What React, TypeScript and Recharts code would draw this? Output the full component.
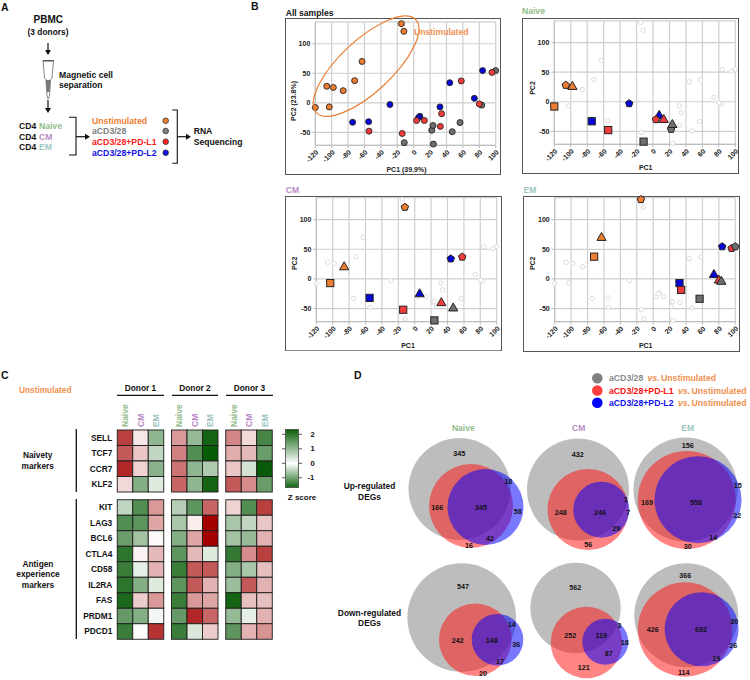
import React from 'react';
import { ScatterChart, Scatter, XAxis, YAxis, CartesianGrid } from 'recharts';

const FONT = '"Liberation Sans", Arial, sans-serif';
const ORANGE = '#ed7d31';
const GRAY = '#6f6f6f';
const RED = '#f23c3c';
const BLUE = '#0505d8';
const NAIVE = '#93bd8b';
const CM = '#b98cc6';
const EM = '#9dc6c2';

// PCA: each stimulation, one point per donor and subset
const unstimulated = [
  { pc1: -106, pc2: 28, subset: 'Naive', donor: 1 },
  { pc1: -98, pc2: 26, subset: 'Naive', donor: 2 },
  { pc1: -120, pc2: -8, subset: 'Naive', donor: 3 },
  { pc1: -12, pc2: 121, subset: 'CM', donor: 1 },
  { pc1: -86, pc2: 20.5, subset: 'CM', donor: 2 },
  { pc1: -103, pc2: -7, subset: 'CM', donor: 3 },
  { pc1: -15, pc2: 134, subset: 'EM', donor: 1 },
  { pc1: -63, pc2: 70, subset: 'EM', donor: 2 },
  { pc1: -72, pc2: 37.5, subset: 'EM', donor: 3 },
];
const cd3 = [
  { pc1: 22, pc2: -46.5, subset: 'Naive', donor: 1 },
  { pc1: 23.5, pc2: -38.5, subset: 'Naive', donor: 2 },
  { pc1: -11.5, pc2: -67.5, subset: 'Naive', donor: 3 },
  { pc1: 47, pc2: -49, subset: 'CM', donor: 2 },
  { pc1: 24, pc2: -70, subset: 'CM', donor: 3 },
  { pc1: 100, pc2: 54.5, subset: 'EM', donor: 1 },
  { pc1: 83, pc2: -4, subset: 'EM', donor: 2 },
  { pc1: 56.5, pc2: -33.5, subset: 'EM', donor: 3 },
];
const pdl1 = [
  { pc1: 3.5, pc2: -30, subset: 'Naive', donor: 1 },
  { pc1: 13, pc2: -30, subset: 'Naive', donor: 2 },
  { pc1: -54.5, pc2: -48, subset: 'Naive', donor: 3 },
  { pc1: 58, pc2: 37, subset: 'CM', donor: 1 },
  { pc1: 32.5, pc2: -40, subset: 'CM', donor: 2 },
  { pc1: -14, pc2: -52, subset: 'CM', donor: 3 },
  { pc1: 95.5, pc2: 51.5, subset: 'EM', donor: 1 },
  { pc1: 80, pc2: -2, subset: 'EM', donor: 2 },
  { pc1: 34, pc2: -18.5, subset: 'EM', donor: 3 },
];
const pdl2 = [
  { pc1: -29, pc2: -3, subset: 'Naive', donor: 1 },
  { pc1: 7.5, pc2: -23, subset: 'Naive', donor: 2 },
  { pc1: -74.5, pc2: -33, subset: 'Naive', donor: 3 },
  { pc1: 44, pc2: 34, subset: 'CM', donor: 1 },
  { pc1: 6, pc2: -25, subset: 'CM', donor: 2 },
  { pc1: -55, pc2: -32, subset: 'CM', donor: 3 },
  { pc1: 84, pc2: 54.5, subset: 'EM', donor: 1 },
  { pc1: 74, pc2: 7.5, subset: 'EM', donor: 2 },
  { pc1: 32, pc2: -7, subset: 'EM', donor: 3 },
];
const pcXTicks = [-120, -100, -80, -60, -40, -20, 0, 20, 40, 60, 80, 100];
const pcYTicks = [-50, 0, 50, 100];
const ellipseCentre = [{ pc1: -58, pc2: 62 }];

// Heatmap: z scores, rows are genes, columns Naive / CM / EM
const genes = ['SELL', 'TCF7', 'CCR7', 'KLF2', 'KIT', 'LAG3', 'BCL6', 'CTLA4', 'CD58', 'IL2RA', 'FAS', 'PRDM1', 'PDCD1'];
const subsets = ['Naive', 'CM', 'EM'];
const donor1 = [
  [-1.5, -0.2, 0.9], [-1.3, -0.45, 0.5], [-1.7, -0.35, 0.95], [-0.3, 1.0, 0.25],
  [0.5, 1.4, -0.8], [1.4, 1.3, -0.7], [1.2, 0.75, -0.05], [1.7, -0.1, -0.55], [1.6, 0.2, -0.6],
  [1.7, 1.0, 0.25], [1.85, -0.4, -0.8], [1.25, 1.0, 0.1], [1.6, -0.03, -1.6],
];
const donor2 = [
  [-0.8, 0.85, 1.9], [-1.0, 1.4, 2.0], [-1.1, 0.9, 0.65], [-1.2, 0.9, 1.9],
  [0.6, 1.3, -1.2], [0.7, -0.15, -2], [1.0, -0.7, -2], [1.3, -0.55, 0.25], [1.6, -1.3, -1.3],
  [1.3, -1.3, -0.6], [1.6, -0.8, -0.7], [1.25, -1.7, -1.2], [1.6, 0.3, -0.4],
];
const donor3 = [
  [-0.95, -0.3, 1.5], [-0.65, -0.55, 1.2], [-0.45, 0.35, 2.0], [-1.3, -0.9, 1.2],
  [-0.35, 1.4, -1.5], [0.7, 0.5, -0.45], [0.75, 0.85, -0.6], [1.65, -0.9, -1.5], [1.0, 0.7, -0.5],
  [0.8, -1.3, -0.6], [1.9, -0.5, -0.5], [0.85, 0.2, -0.6], [1.3, -0.6, -0.85],
];
const donors = [donor1, donor2, donor3];
const colourTicks = [2, 1, 0, -1];

// Venn circles, in the panel's own units
const vennGray = [
  { x: 59.5, y: 59, r: 51 }, { x: 178, y: 59.5, r: 51 }, { x: 285.5, y: 59.5, r: 52 },
  { x: 61.7, y: 187.6, r: 54.3 }, { x: 175.5, y: 178, r: 45.2 }, { x: 286.3, y: 185.3, r: 52 },
];
const vennRed = [
  { x: 71, y: 76, r: 42 }, { x: 188, y: 79.5, r: 40.5 }, { x: 286.7, y: 70, r: 49 },
  { x: 75.3, y: 209.7, r: 36.3 }, { x: 186.5, y: 212.5, r: 35.8 }, { x: 285, y: 199.5, r: 47.2 },
];
const vennBlue = [
  { x: 85.5, y: 77, r: 38 }, { x: 201.3, y: 79.7, r: 28 }, { x: 298, y: 69.7, r: 43.5 },
  { x: 97.5, y: 209.7, r: 25.8 }, { x: 205.3, y: 211.8, r: 23 }, { x: 301.6, y: 199.2, r: 37 },
];
const vennCounts = [
  { x: 59.3, y: 23.7, n: 345 }, { x: 108.3, y: 51.3, n: 18 }, { x: 37.3, y: 77.3, n: 166 }, { x: 81, y: 77.3, n: 345 },
  { x: 117.7, y: 81.3, n: 58 }, { x: 90, y: 108.3, n: 42 }, { x: 69, y: 115.7, n: 16 },
  { x: 177.7, y: 24.7, n: 432 }, { x: 226, y: 69.3, n: 1 }, { x: 228.3, y: 82, n: 7 }, { x: 160.7, y: 82.7, n: 248 },
  { x: 200, y: 82, n: 246 }, { x: 216.3, y: 98.3, n: 29 }, { x: 188.3, y: 114.7, n: 56 },
  { x: 287.7, y: 15, n: 156 }, { x: 337.7, y: 55, n: 15 }, { x: 247, y: 72.3, n: 169 }, { x: 296, y: 72.3, n: 558 },
  { x: 337.3, y: 85, n: 22 }, { x: 313.3, y: 107, n: 14 }, { x: 287.7, y: 116, n: 30 },
  { x: 63, y: 156.3, n: 547 }, { x: 111.7, y: 194.3, n: 14 }, { x: 57.7, y: 210, n: 242 }, { x: 91.7, y: 210, n: 148 },
  { x: 116.3, y: 214, n: 36 }, { x: 100, y: 231, n: 17 }, { x: 83, y: 243, n: 20 },
  { x: 175.3, y: 157.3, n: 562 }, { x: 219.3, y: 195.3, n: 3 }, { x: 170.3, y: 205.7, n: 252 }, { x: 201.3, y: 205, n: 119 },
  { x: 224.7, y: 212.7, n: 18 }, { x: 208.7, y: 223, n: 87 }, { x: 183.7, y: 237.3, n: 121 },
  { x: 285.3, y: 145.3, n: 366 }, { x: 334.3, y: 191.3, n: 30 }, { x: 252.7, y: 199, n: 426 }, { x: 301, y: 199, n: 692 },
  { x: 333.3, y: 215.7, n: 26 }, { x: 316.3, y: 228.3, n: 19 }, { x: 283.7, y: 242.7, n: 114 },
];

const allPoints = [...unstimulated, ...cd3, ...pdl1, ...pdl2];

function DonorMark({ cx, cy, donor, fill }: any) {
  if (donor === 2) {
    return <polygon points={`${cx},${cy - 5} ${cx + 4.6},${cy + 3} ${cx - 4.6},${cy + 3}`} fill={fill} stroke="#222" strokeWidth={1} />;
  }
  if (donor === 3) {
    return <rect x={cx - 3.6} y={cy - 3.6} width={7.2} height={7.2} fill={fill} stroke="#222" strokeWidth={1} />;
  }
  const r = 3.9;
  const pts = [0, 1, 2, 3, 4].map((i) => {
    const a = (-90 + i * 72) * (Math.PI / 180);
    return `${cx + r * Math.cos(a)},${cy + r * Math.sin(a)}`;
  });
  return <polygon points={pts.join(' ')} fill={fill} stroke="#222" strokeWidth={1} />;
}

interface PanelProps {
  left: number; top: number; width: number; height: number;
  yAxisWidth: number; right: number; marginTop: number; xAxisHeight: number;
  subset?: string; xLabel: string; yLabel: string;
  xLabelPos: number[]; yLabelPos: number[];
}

function PcaPanel({ left, top, width, height, yAxisWidth, right, marginTop, xAxisHeight, subset, xLabel, yLabel, xLabelPos, yLabelPos }: PanelProps) {
  const groups = subset
    ? [[unstimulated, ORANGE], [pdl2, BLUE], [pdl1, RED], [cd3, GRAY]]
    : [[unstimulated, ORANGE], [cd3, GRAY], [pdl2, BLUE], [pdl1, RED]];
  const tick = { fontSize: 7, fontWeight: 700, fill: '#222', fontFamily: FONT };
  return (
    <div style={{ position: 'absolute', left, top, width, height }}>
      <svg width={width} height={height} style={{ position: 'absolute', left: 0, top: 0 }}>
        <rect x={0.5} y={0.5} width={width - 1} height={height - 1} fill="none" stroke="#555" strokeWidth={1} />
        <text x={xLabelPos[0]} y={xLabelPos[1]} textAnchor="middle" dominantBaseline="central" fontSize={7} fontWeight={700} fontFamily={FONT} fill="#222">{xLabel}</text>
        <text transform={`translate(${yLabelPos[0]} ${yLabelPos[1]}) rotate(-90)`} textAnchor="middle" dominantBaseline="central" fontSize={7} fontWeight={700} fontFamily={FONT} fill="#222">{yLabel}</text>
      </svg>
      <ScatterChart width={width} height={height} margin={{ top: marginTop, right, bottom: 0, left: 0 }}>
        <CartesianGrid stroke="#cfcfcf" strokeWidth={1.2} />
        <XAxis type="number" dataKey="pc1" domain={[-120, 100]} ticks={pcXTicks} interval={0} height={xAxisHeight}
          tick={tick} angle={-45} textAnchor="end" tickSize={3} tickMargin={1} stroke="#bbb" />
        <YAxis type="number" dataKey="pc2" domain={[-72, 137]} ticks={pcYTicks} interval={0} width={yAxisWidth}
          tick={tick} tickSize={3} tickMargin={2} stroke="#bbb" />
        {subset && (
          <Scatter data={allPoints} isAnimationActive={false}
            shape={(p: any) => <circle cx={p.cx} cy={p.cy} r={2.2} fill="#fff" stroke="#dcdcdc" strokeWidth={1} />} />
        )}
        {groups.map(([points, colour]: any, i) => (
          <Scatter key={i} data={subset ? points.filter((p: any) => p.subset === subset) : points} isAnimationActive={false}
            shape={(p: any) => subset
              ? <DonorMark cx={p.cx} cy={p.cy} donor={p.payload.donor} fill={colour} />
              : <circle cx={p.cx} cy={p.cy} r={3} fill={colour} stroke="#222" strokeWidth={0.9} />} />
        ))}
        {!subset && (
          <Scatter data={ellipseCentre} isAnimationActive={false}
            shape={(p: any) => <ellipse cx={p.cx} cy={p.cy} rx={68} ry={26} fill="none" stroke={ORANGE} strokeWidth={1.2}
              transform={`rotate(-43 ${p.cx} ${p.cy})`} />} />
        )}
      </ScatterChart>
    </div>
  );
}

function heatColour(z: number) {
  const t = Math.min(Math.abs(z) / 2, 1);
  const end = z >= 0 ? [8, 92, 8] : [163, 0, 0];
  const c = end.map((e) => Math.round(255 + (e - 255) * t));
  return `rgb(${c[0]},${c[1]},${c[2]})`;
}

// gap of half a cell between the donors and between the two gene blocks
const rowPos = (row: number) => (row >= 4 ? row + 0.5 : row);
const colPos = (donor: number, col: number) => donor * 3.5 + col;

const heatCells = donors.flatMap((values, d) =>
  values.flatMap((row, r) => row.map((z, c) => ({ col: colPos(d, c), row: rowPos(r), z }))),
);
const heatXTicks = donors.flatMap((_, d) => subsets.map((_s, c) => colPos(d, c)));
const heatYTicks = genes.map((_, r) => rowPos(r));
const subsetColour: Record<string, string> = { Naive: NAIVE, CM, EM };

function SubsetTick({ x, y, index }: any) {
  const name = subsets[index % 3];
  return (
    <text transform={`translate(${x} ${y}) rotate(-90)`} textAnchor="start" dominantBaseline="central"
      fontSize={8.5} fontWeight={700} fontFamily={FONT} fill={subsetColour[name]}>{name}</text>
  );
}

function Heatmap() {
  return (
    <div style={{ position: 'absolute', left: 0, top: 395 }}>
      <ScatterChart width={280} height={245} margin={{ top: 5, right: 7.75, bottom: 0.75, left: 57.25 }}>
        <XAxis type="number" dataKey="col" orientation="top" domain={[-0.5, 9.5]} ticks={heatXTicks} interval={0} height={30}
          tick={<SubsetTick />} tickLine={false} axisLine={false} tickSize={0} tickMargin={3} />
        <YAxis type="number" dataKey="row" reversed domain={[-0.5, 13]} ticks={heatYTicks} interval={0} width={60}
          tickFormatter={(v: number) => genes[heatYTicks.indexOf(v)]} tickLine={false} axisLine={false} tickSize={0} tickMargin={5}
          tick={{ fontSize: 8.3, fontWeight: 700, fill: '#111', fontFamily: FONT }} />
        <Scatter data={heatCells} isAnimationActive={false}
          shape={(p: any) => <rect x={p.cx - 7.75} y={p.cy - 7.75} width={15.5} height={15.5} fill={heatColour(p.payload.z)} stroke="#1c1c1c" strokeWidth={0.9} />} />
      </ScatterChart>
    </div>
  );
}

function Venn() {
  const circle = (fill: string, opacity: number) => (p: any) => (
    <circle cx={p.cx} cy={p.cy} r={p.payload.r} fill={fill} fillOpacity={opacity} />
  );
  return (
    <div style={{ position: 'absolute', left: 400, top: 430 }}>
      <ScatterChart width={350} height={250} margin={{ top: 0, right: 0, bottom: 0, left: 0 }}>
        <XAxis type="number" dataKey="x" domain={[0, 350]} hide />
        <YAxis type="number" dataKey="y" domain={[0, 250]} reversed hide />
        <Scatter data={vennGray} isAnimationActive={false} shape={circle('#bdbdbd', 1)} />
        <Scatter data={vennRed} isAnimationActive={false} shape={circle('#ff1414', 0.52)} />
        <Scatter data={vennBlue} isAnimationActive={false} shape={circle('#0000ff', 0.53)} />
        <Scatter data={vennCounts} isAnimationActive={false}
          shape={(p: any) => <text x={p.cx} y={p.cy} textAnchor="middle" dominantBaseline="central" fontSize={7.2} fontWeight={700} fontFamily={FONT} fill="#111">{p.payload.n}</text>} />
      </ScatterChart>
    </div>
  );
}

function Txt({ x, y, c = '#111', s = 8.6, a = 'start', i, w = 700, children }: any) {
  return <text x={x} y={y} fill={c} fontSize={s} textAnchor={a} fontWeight={w} fontStyle={i ? 'italic' : undefined} dominantBaseline="central">{children}</text>;
}

function Arrow({ x1, y1, x2, y2 }: any) {
  const horizontal = y1 === y2;
  const head = horizontal
    ? `${x2},${y2} ${x2 - 5},${y2 - 3} ${x2 - 5},${y2 + 3}`
    : `${x2},${y2} ${x2 - 3},${y2 - 5} ${x2 + 3},${y2 - 5}`;
  return (
    <g>
      <line x1={x1} y1={y1} x2={horizontal ? x2 - 4 : x2} y2={horizontal ? y2 : y2 - 4} stroke="#111" strokeWidth={1.2} />
      <polygon points={head} fill="#111" />
    </g>
  );
}

function Overlay() {
  const schemeRows = [
    ['Unstimulated', ORANGE, 120.7], ['aCD3/28', '#808080', 131], ['aCD3/28+PD-L1', '#ff2020', 141.7], ['aCD3/28+PD-L2', '#1010e8', 152.7],
  ] as [string, string, number][];
  const legendRows = [
    ['aCD3/28', '#8a8a8a', 378.3, '#808080', 46],
    ['aCD3/28+PD-L1', '#ff1010', 390.5, '#ff4040', 69.5],
    ['aCD3/28+PD-L2', '#1010ee', 402.7, '#0000ff', 69.5],
  ] as [string, string, number, string, number][];
  return (
    <svg width={750} height={680} style={{ position: 'absolute', left: 0, top: 0, fontFamily: FONT, pointerEvents: 'none' }}>
      <Txt x={1} y={7} s={10.5}>A</Txt>
      <Txt x={251} y={6} s={10.5}>B</Txt>
      <Txt x={1} y={375} s={10.5}>C</Txt>
      <Txt x={354} y={374.5} s={10.5}>D</Txt>

      {/* A: workflow */}
      <Txt x={48.3} y={19.3} s={10} a="middle">PBMC</Txt>
      <Txt x={48} y={31.5} s={8.4} a="middle">(3 donors)</Txt>
      <Arrow x1={48} y1={43} x2={48} y2={55} />
      <path d="M43 60.5 H53.5 L52 78 L50.5 79.5 L49.5 96 L48.2 99 L47 96 L46 79.5 L44.5 78 Z" fill="#fff" stroke="#777" strokeWidth={0.9} />
      <rect x={43} y={60} width={10.5} height={1.5} fill="#555" />
      <path d="M45.8 80 H50.6 L49.6 92 H46.8 Z" fill="#777" />
      <Txt x={59} y={74.7} s={8.6}>Magnetic cell</Txt>
      <Txt x={59} y={85} s={8.6}>separation</Txt>
      <Arrow x1={48} y1={100} x2={48} y2={113} />
      {[['Naive', NAIVE, 126.3], ['CM', CM, 136.7], ['EM', EM, 147.3]].map(([name, colour, y]: any) => (
        <g key={name}>
          <Txt x={19} y={y}>CD4</Txt>
          <Txt x={39} y={y} c={colour}>{name}</Txt>
        </g>
      ))}
      <path d="M69 117.3 H76 V155 H69" fill="none" stroke="#111" strokeWidth={1.1} />
      <Arrow x1={76} y1={136.7} x2={90} y2={136.7} />
      {schemeRows.map(([name, colour, y]) => (
        <g key={name}>
          <Txt x={92} y={y} c={colour} s={8.7}>{name}</Txt>
          <circle cx={165.7} cy={y} r={2.8} fill={colour} stroke="#333" strokeWidth={0.8} />
        </g>
      ))}
      <path d="M172.3 110 H177.3 V163.3 H172.3" fill="none" stroke="#111" strokeWidth={1.1} />
      <Arrow x1={177.3} y1={136.7} x2={191} y2={136.7} />
      <Txt x={193.7} y={131.3}>RNA</Txt>
      <Txt x={193.7} y={142.3}>Sequencing</Txt>

      {/* B: titles */}
      <Txt x={285.7} y={12.7} s={8.6}>All samples</Txt>
      <Txt x={414} y={31.7} s={8.6} c="#f0904f">Unstimulated</Txt>
      <Txt x={522} y={11.3} s={8.6} c={NAIVE}>Naive</Txt>
      <Txt x={285.7} y={189.7} s={8.6} c={CM}>CM</Txt>
      <Txt x={523.5} y={189.7} s={8.6} c={EM}>EM</Txt>

      {/* C: heatmap furniture */}
      <Txt x={19} y={390} s={8.3} c="#f0904f">Unstimulated</Txt>
      {[['Donor 1', 117, 164], ['Donor 2', 172, 218], ['Donor 3', 226, 273]].map(([name, a, b]: any) => (
        <g key={name}>
          <Txt x={(a + b) / 2} y={387.7} s={8.3} a="middle">{name}</Txt>
          <line x1={a} x2={b} y1={395.3} y2={395.3} stroke="#111" strokeWidth={1.2} />
        </g>
      ))}
      <line x1={76.3} x2={76.3} y1={429} y2={492} stroke="#111" strokeWidth={1.3} />
      <line x1={76.3} x2={76.3} y1={499} y2={639} stroke="#111" strokeWidth={1.3} />
      <Txt x={37.7} y={455.3} s={8.3} a="middle">Naivety</Txt>
      <Txt x={37.7} y={466} s={8.3} a="middle">markers</Txt>
      <Txt x={38} y={563.7} s={8.3} a="middle">Antigen</Txt>
      <Txt x={38} y={574.3} s={8.3} a="middle">experience</Txt>
      <Txt x={38} y={585} s={8.3} a="middle">markers</Txt>

      <defs>
        <linearGradient id="zscore" x1="0" x2="0" y1="0" y2="1">
          <stop offset="0" stopColor="#0a5f0a" />
          <stop offset="0.586" stopColor="#ffffff" />
          <stop offset="1" stopColor="#0f650f" />
        </linearGradient>
      </defs>
      <rect x={285.5} y={429.5} width={13} height={58} fill="url(#zscore)" stroke="#444" strokeWidth={0.8} />
      {colourTicks.map((t) => {
        const y = 463.3 - t * 14.5;
        return (
          <g key={t}>
            <line x1={282} x2={285.5} y1={y} y2={y} stroke="#333" strokeWidth={0.8} />
            <line x1={298.5} x2={302} y1={y} y2={y} stroke="#333" strokeWidth={0.8} />
            <Txt x={t < 0 ? 307.5 : 310.5} y={y} s={7.6}>{t}</Txt>
          </g>
        );
      })}
      <Txt x={302} y={497.3} s={8} a="middle">Z score</Txt>

      {/* D: legend and titles */}
      {legendRows.map(([name, colour, y, dot, w]) => (
        <g key={name}>
          <circle cx={597.3} cy={y} r={5.3} fill={dot} />
          <Txt x={609} y={y} s={8.7} c={colour}>{name}</Txt>
          <Txt x={609 + w - 0.5 + (name === 'aCD3/28' ? -7 : 0)} y={y} s={8.7} c="#f0904f" i>vs.</Txt>
          <Txt x={609 + w + 13 + (name === 'aCD3/28' ? -7 : 0)} y={y} s={8.7} c="#f0904f">Unstimulated</Txt>
        </g>
      ))}
      <Txt x={463.3} y={427.7} s={8.5} c={NAIVE} a="middle">Naive</Txt>
      <Txt x={578.7} y={427.7} s={8.5} c={CM} a="middle">CM</Txt>
      <Txt x={687.7} y={427.5} s={8.5} c={EM} a="middle">EM</Txt>
      <Txt x={369.5} y={486.3} s={8.4} a="middle">Up-regulated</Txt>
      <Txt x={369.5} y={496.7} s={8.4} a="middle">DEGs</Txt>
      <Txt x={369.5} y={613} s={8.4} a="middle">Down-regulated</Txt>
      <Txt x={369.5} y={623.3} s={8.4} a="middle">DEGs</Txt>
    </svg>
  );
}

export default function App() {
  return (
    <div style={{ position: 'absolute', left: 0, top: 0, width: 750, height: 680, background: '#fff', overflow: 'hidden', fontFamily: FONT }}>
      <style>{'.recharts-surface { overflow: visible; }'}</style>
      <PcaPanel left={285} top={18} width={216} height={157} yAxisWidth={30.3} right={5.3} marginTop={3.9} xAxisHeight={29.7}
        xLabel="PC1 (39.9%)" yLabel="PC2 (23.8%)" xLabelPos={[121.5, 151]} yLabelPos={[8.3, 83]} />
      <PcaPanel left={522} top={18} width={217} height={156} yAxisWidth={32.3} right={3.7} marginTop={2.8} xAxisHeight={29.7} subset="Naive"
        xLabel="PC1" yLabel="PC2" xLabelPos={[123.7, 149.7]} yLabelPos={[10, 70]} />
      <PcaPanel left={285} top={195.7} width={217} height={155.3} yAxisWidth={31.3} right={5.3} marginTop={1.7} xAxisHeight={29.7} subset="CM"
        xLabel="PC1" yLabel="PC2" xLabelPos={[123, 149.3]} yLabelPos={[9, 67.3]} />
      <PcaPanel left={523} top={195.7} width={217} height={156} yAxisWidth={31.7} right={4.7} marginTop={1.7} xAxisHeight={30.4} subset="EM"
        xLabel="PC1" yLabel="PC2" xLabelPos={[122.7, 149.3]} yLabelPos={[9, 67.3]} />
      <Heatmap />
      <Venn />
      <Overlay />
    </div>
  );
}
